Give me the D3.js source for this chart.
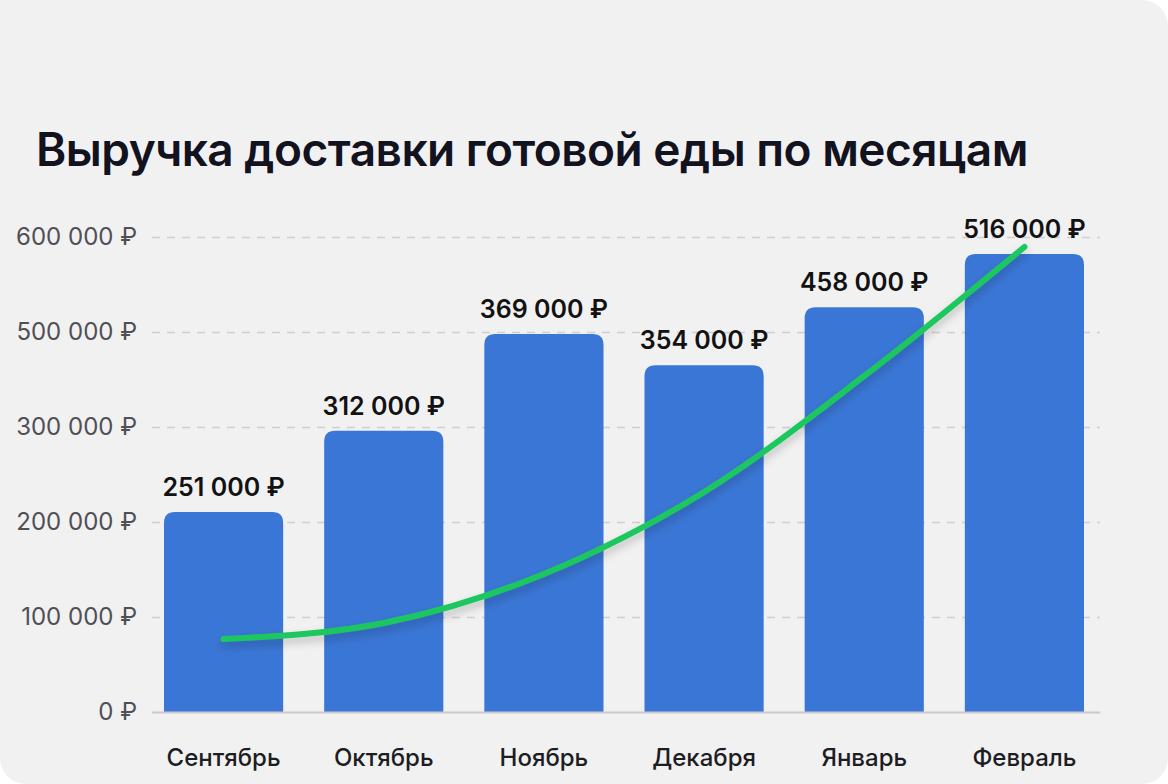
<!DOCTYPE html>
<html>
<head>
<meta charset="utf-8">
<script src="https://cdn.jsdelivr.net/npm/d3@7"></script>
<style>
  html, body { margin: 0; padding: 0; background: #ffffff; }
  svg { display: block; font-family: Inter, "Noto Sans", sans-serif; }
</style>
</head>
<body>
<svg width="1168" height="784"></svg>
<script>
// chart data
const months = ["Сентябрь", "Октябрь", "Ноябрь", "Декабря", "Январь", "Февраль"];
// printed labels above bars
const revenueLabels = [251000, 312000, 369000, 354000, 458000, 516000];
// bar heights as drawn against the grid
const barValues = [210500, 296000, 398000, 365000, 426000, 482000];
// green trend curve, value at each bar centre
const trendValues = [76800, 93700, 145300, 231600, 353700, 489500];
// gridlines and their printed labels
const tickValues = [0, 100000, 200000, 300000, 400000, 500000];
const tickLabels = ["0 ₽", "100 000 ₽", "200 000 ₽", "300 000 ₽", "500 000 ₽", "600 000 ₽"];

const title = "Выручка доставки готовой еды по месяцам";

const W = 1168, H = 784;
const svg = d3.select("svg");

// card background
svg.append("rect")
  .attr("width", W).attr("height", H)
  .attr("rx", 26).attr("fill", "#f1f1f2");
svg.append("rect")
  .attr("width", 60).attr("height", 60)
  .attr("fill", "#f1f1f2");

const defs = svg.append("defs");
defs.append("filter")
  .attr("id", "shadow")
  .attr("x", "-10%").attr("y", "-10%").attr("width", "120%").attr("height", "130%")
  .append("feDropShadow")
  .attr("dx", 0).attr("dy", 5).attr("stdDeviation", 4)
  .attr("flood-color", "#000").attr("flood-opacity", 0.22);

svg.append("text")
  .attr("x", 36).attr("y", 166)
  .attr("font-size", 46).attr("font-weight", 600)
  .attr("letter-spacing", -0.5)
  .attr("fill", "#12131f")
  .text(title);

const x = d3.scaleBand()
  .domain(months)
  .range([143.5, 1104.5])
  .paddingInner(0.256)
  .paddingOuter(0.128);

const y = d3.scaleLinear()
  .domain([0, 500000])
  .range([712, 237]);

const gridLeft = 152, gridRight = 1100;

// gridlines
const grid = svg.append("g")
  .attr("transform", `translate(${gridLeft},0)`)
  .call(d3.axisLeft(y)
    .tickValues(tickValues.slice(1))
    .tickSize(-(gridRight - gridLeft))
    .tickFormat(""));
grid.select(".domain").remove();
grid.selectAll(".tick line")
  .attr("stroke", "#cfcfd2")
  .attr("stroke-width", 1.5)
  .attr("stroke-dasharray", "8 7");

// y labels
const yAxis = svg.append("g")
  .attr("transform", "translate(137,0)")
  .call(d3.axisLeft(y)
    .tickValues(tickValues)
    .tickSize(0)
    .tickPadding(0)
    .tickFormat((d, i) => tickLabels[i]));
yAxis.select(".domain").remove();
yAxis.selectAll("text")
  .attr("font-size", 24)
  .attr("font-family", "Inter, 'Noto Sans', sans-serif")
  .attr("fill", "#4f4f55");

// bars, rounded on top only
function topRoundedBar(x0, y0, w, h, r) {
  return `M${x0},${y0 + h}V${y0 + r}Q${x0},${y0} ${x0 + r},${y0}` +
    `H${x0 + w - r}Q${x0 + w},${y0} ${x0 + w},${y0 + r}V${y0 + h}Z`;
}

svg.append("g")
  .selectAll("path")
  .data(barValues)
  .join("path")
  .attr("fill", "#3a76d5")
  .attr("d", (d, i) => topRoundedBar(x(months[i]), y(d), x.bandwidth(), y(0) - y(d), 11));

// baseline
svg.append("line")
  .attr("x1", gridLeft).attr("x2", gridRight)
  .attr("y1", y(0) + 0.5).attr("y2", y(0) + 0.5)
  .attr("stroke", "#c9c9cc").attr("stroke-width", 2);

// value labels
const fmt = v => d3.format(",")(v).replace(/,/g, " ") + " ₽";
svg.append("g")
  .selectAll("text")
  .data(revenueLabels)
  .join("text")
  .attr("x", (d, i) => x(months[i]) + x.bandwidth() / 2)
  .attr("y", (d, i) => y(barValues[i]) - 16)
  .attr("text-anchor", "middle")
  .attr("font-size", 25).attr("font-weight", 600)
  .attr("fill", "#121212")
  .text(d => fmt(d));

// month labels
const xAxis = svg.append("g")
  .attr("transform", "translate(0,766)")
  .call(d3.axisBottom(x).tickSize(0).tickPadding(0));
xAxis.select(".domain").remove();
xAxis.selectAll("text")
  .attr("dy", 0)
  .attr("font-size", 24).attr("font-weight", 500)
  .attr("font-family", "Inter, 'Noto Sans', sans-serif")
  .attr("fill", "#1d1d22");

// trend curve
const line = d3.line()
  .x((d, i) => x(months[i]) + x.bandwidth() / 2)
  .y(d => y(d))
  .curve(d3.curveMonotoneX);

svg.append("path")
  .datum(trendValues)
  .attr("d", line)
  .attr("fill", "none")
  .attr("stroke", "#1fc75f")
  .attr("stroke-width", 6)
  .attr("stroke-linecap", "round")
  .attr("filter", "url(#shadow)");
</script>
</body>
</html>
